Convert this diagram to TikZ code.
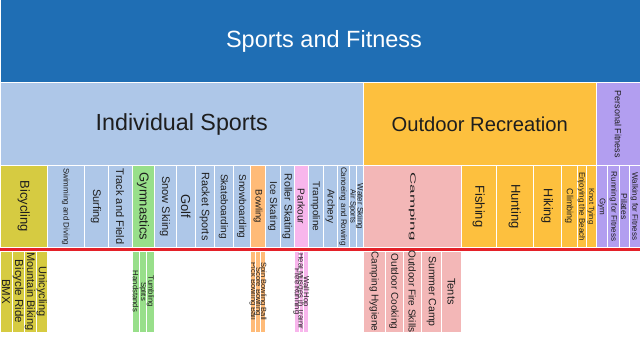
\documentclass[tikz,border=0pt]{standalone}
\usepackage{fontspec}
\setmainfont{Liberation Sans}
\usetikzlibrary{fit}

\definecolor{topblue}{RGB}{31,110,180}
\definecolor{indblue}{RGB}{174,199,232}
\definecolor{outorange}{RGB}{253,192,62}
\definecolor{fitpurple}{RGB}{178,158,240}
\definecolor{bikeyellow}{RGB}{214,203,65}
\definecolor{gymgreen}{RGB}{152,223,138}
\definecolor{bowlorange}{RGB}{255,187,120}
\definecolor{parkpink}{RGB}{248,182,236}
\definecolor{camppink}{RGB}{243,183,183}
\definecolor{cutred}{RGB}{228,32,40}
\definecolor{txtgray}{RGB}{30,30,30}

\newcommand{\fsz}[1]{\fontsize{#1}{#1}\selectfont}

\begin{document}
\begin{tikzpicture}[
    x=1pt, y=-1pt,
    cell/.style={
        draw=white,
        line width=1pt,
        inner sep=0pt,
        outer sep=0pt
    },
    vlab/.style={rotate=-90, inner sep=0pt, text=txtgray},
    hlab/.style={inner sep=0pt, text=txtgray}
]
\useasboundingbox (0,0) rectangle (640,337);

% Root
\node[cell, fill=topblue, fit={(0,0) (640,83)},
      label={[hlab, text=white, font=\fsz{23.5}, xshift=4pt]center:Sports and Fitness}] (sports) {};

% Second level
\node[cell, fill=indblue, fit={(0,83) (363.5,165.5)},
      label={[hlab, font=\fsz{23.3}]center:Individual Sports}] (indiv) {};
\node[cell, fill=outorange, fit={(363.5,83) (596,165.5)},
      label={[hlab, font=\fsz{20.2}]center:Outdoor Recreation}] (outdoor) {};
\node[cell, fill=fitpurple, fit={(596,83) (640,165.5)},
      label={[vlab, font=\fsz{9}]center:Personal Fitness}] (personal) {};

% Third level - individual sports
\node[cell, fill=bikeyellow, fit={(0,165.5) (47.5,247.5)},
      label={[vlab, font=\fsz{13}]center:Bicycling}] (bicycling) {};
\node[cell, fill=indblue, fit={(47.5,165.5) (84,247.5)},
      label={[vlab, font=\fsz{8}]center:Swimming and Diving}] (swimming) {};
\node[cell, fill=indblue, fit={(84,165.5) (108,247.5)},
      label={[vlab, font=\fsz{11}]center:Surfing}] (surfing) {};
\node[cell, fill=indblue, fit={(108,165.5) (132,247.5)},
      label={[vlab, font=\fsz{11}]center:Track and Field}] (trackfield) {};
\node[cell, fill=gymgreen, fit={(132,165.5) (154,247.5)},
      label={[vlab, font=\fsz{13}]center:Gymnastics}] (gymnastics) {};
\node[cell, fill=indblue, fit={(154,165.5) (176,247.5)},
      label={[vlab, font=\fsz{11}]center:Snow Skiing}] (snowskiing) {};
\node[cell, fill=indblue, fit={(176,165.5) (195.5,247.5)},
      label={[vlab, font=\fsz{13}]center:Golf}] (golf) {};
\node[cell, fill=indblue, fit={(195.5,165.5) (214,247.5)},
      label={[vlab, font=\fsz{10.8}]center:Racket Sports}] (racket) {};
\node[cell, fill=indblue, fit={(214,165.5) (233,247.5)},
      label={[vlab, font=\fsz{10}]center:Skateboarding}] (skateboarding) {};
\node[cell, fill=indblue, fit={(233,165.5) (250.5,247.5)},
      label={[vlab, font=\fsz{10}]center:Snowboarding}] (snowboarding) {};
\node[cell, fill=bowlorange, fit={(250.5,165.5) (265.5,247.5)},
      label={[vlab, font=\fsz{9.5}]center:Bowling}] (bowling) {};
\node[cell, fill=indblue, fit={(265.5,165.5) (280,247.5)},
      label={[vlab, font=\fsz{10}]center:Ice Skating}] (iceskating) {};
\node[cell, fill=indblue, fit={(280,165.5) (294.5,247.5)},
      label={[vlab, font=\fsz{10.5}]center:Roller Skating}] (rollerskating) {};
\node[cell, fill=parkpink, fit={(294.5,165.5) (308,247.5)},
      label={[vlab, font=\fsz{10}]center:Parkour}] (parkour) {};
\node[cell, fill=indblue, fit={(308,165.5) (323,247.5)},
      label={[vlab, font=\fsz{10}]center:Trampoline}] (trampoline) {};
\node[cell, fill=indblue, fit={(323,165.5) (337.5,247.5)},
      label={[vlab, font=\fsz{10}]center:Archery}] (archery) {};
\node[cell, fill=indblue, fit={(337.5,165.5) (349,247.5)},
      label={[vlab, font=\fsz{8}]center:Canoeing and Rowing}] (canoeing) {};
\node[cell, fill=indblue, fit={(349,165.5) (356,247.5)},
      label={[vlab, font=\fsz{7.6}]center:Air Sports}] (airsports) {};
\node[cell, fill=indblue, fit={(356,165.5) (363.5,247.5)},
      label={[vlab, font=\fsz{8}]center:Water Skiing}] (waterskiing) {};

% Third level - outdoor recreation
\node[cell, fill=camppink, fit={(363.5,165.5) (461,247.5)},
      label={[vlab, font=\fsz{17}]center:{\scalebox{1}[0.45]{Camping}}}] (camping) {};
\node[cell, fill=outorange, fit={(461,165.5) (496.5,247.5)},
      label={[vlab, font=\fsz{13}]center:Fishing}] (fishing) {};
\node[cell, fill=outorange, fit={(496.5,165.5) (533,247.5)},
      label={[vlab, font=\fsz{13}]center:Hunting}] (hunting) {};
\node[cell, fill=outorange, fit={(533,165.5) (561.5,247.5)},
      label={[vlab, font=\fsz{12.6}]center:Hiking}] (hiking) {};
\node[cell, fill=outorange, fit={(561.5,165.5) (577,247.5)},
      label={[vlab, font=\fsz{9}]center:Climbing}] (climbing) {};
\node[cell, fill=outorange, fit={(577,165.5) (586,247.5)},
      label={[vlab, font=\fsz{8}]center:Enjoying the Beach}] (beach) {};
\node[cell, fill=outorange, fit={(586,165.5) (596,247.5)},
      label={[vlab, font=\fsz{7.5}]center:Knot Tying}] (knots) {};

% Third level - personal fitness
\node[cell, fill=fitpurple, fit={(596,165.5) (607.5,247.5)},
      label={[vlab, font=\fsz{8}]center:Gym}] (gym) {};
\node[cell, fill=fitpurple, fit={(607.5,165.5) (619.5,247.5)},
      label={[vlab, font=\fsz{8}]center:Running for Fitness}] (running) {};
\node[cell, fill=fitpurple, fit={(619.5,165.5) (629,247.5)},
      label={[vlab, font=\fsz{8.5}]center:Pilates}] (pilates) {};
\node[cell, fill=fitpurple, fit={(629,165.5) (640,247.5)},
      label={[vlab, font=\fsz{8}]center:Walking for Fitness}] (walking) {};

% Cut line
\fill[cutred] (0,247.5) rectangle (640,251);

% Fourth level
\node[cell, fill=bikeyellow, fit={(0,251) (12,332)},
      label={[vlab, font=\fsz{11.5}]center:BMX}] (bmx) {};
\node[cell, fill=bikeyellow, fit={(12,251) (24,332)},
      label={[vlab, font=\fsz{11.5}]center:Bicycle Ride}] (bikeride) {};
\node[cell, fill=bikeyellow, fit={(24,251) (36,332)},
      label={[vlab, font=\fsz{11}]center:Mountain Biking}] (mtb) {};
\node[cell, fill=bikeyellow, fit={(36,251) (47.5,332)},
      label={[vlab, font=\fsz{11}]center:Unicycling}] (unicycling) {};

\node[cell, fill=gymgreen, fit={(132,251) (139.5,332)},
      label={[vlab, font=\fsz{7.7}]center:Handstands}] (handstands) {};
\node[cell, fill=gymgreen, fit={(139.5,251) (146.5,332)},
      label={[vlab, font=\fsz{7.7}]center:Splits}] (splits) {};
\node[cell, fill=gymgreen, fit={(146.5,251) (154,332)},
      label={[vlab, font=\fsz{7.7}]center:Tumbling}] (tumbling) {};

\node[cell, fill=bowlorange, fit={(250.5,251) (255.5,332)},
      label={[vlab, font=\fsz{7.5}]center:Pick Bowling Ball}] (pickball) {};
\node[cell, fill=bowlorange, fit={(255.5,251) (260.5,332)},
      label={[vlab, font=\fsz{7.5}]center:Score Bowling}] (scorebowl) {};
\node[cell, fill=bowlorange, fit={(260.5,251) (265.5,332)},
      label={[vlab, font=\fsz{7.5}]center:Spin Bowling Ball}] (spinball) {};

\node[cell, fill=parkpink, fit={(294.5,251) (299,332)},
      label={[vlab, font=\fsz{7.5}]center:Free Running}] (freerun) {};
\node[cell, fill=parkpink, fit={(299,251) (303.5,332)},
      label={[vlab, font=\fsz{7.5}]center:Heal Muscles in Trainir}] (healmuscle) {};
\node[cell, fill=parkpink, fit={(303.5,251) (308,332)},
      label={[vlab, font=\fsz{7.5}]center:Wall Hop}] (wallhop) {};

\node[cell, fill=camppink, fit={(363.5,251) (385,332)},
      label={[vlab, font=\fsz{10}]center:Camping Hygiene}] (hygiene) {};
\node[cell, fill=camppink, fit={(385,251) (403,332)},
      label={[vlab, font=\fsz{10}]center:Outdoor Cooking}] (cooking) {};
\node[cell, fill=camppink, fit={(403,251) (421.5,332)},
      label={[vlab, font=\fsz{10}]center:Outdoor Fire Skills}] (fireskills) {};
\node[cell, fill=camppink, fit={(421.5,251) (441.5,332)},
      label={[vlab, font=\fsz{10.5}]center:Summer Camp}] (summercamp) {};
\node[cell, fill=camppink, fit={(441.5,251) (461,332)},
      label={[vlab, font=\fsz{11}]center:Tents}] (tents) {};

\end{tikzpicture}
\end{document}
